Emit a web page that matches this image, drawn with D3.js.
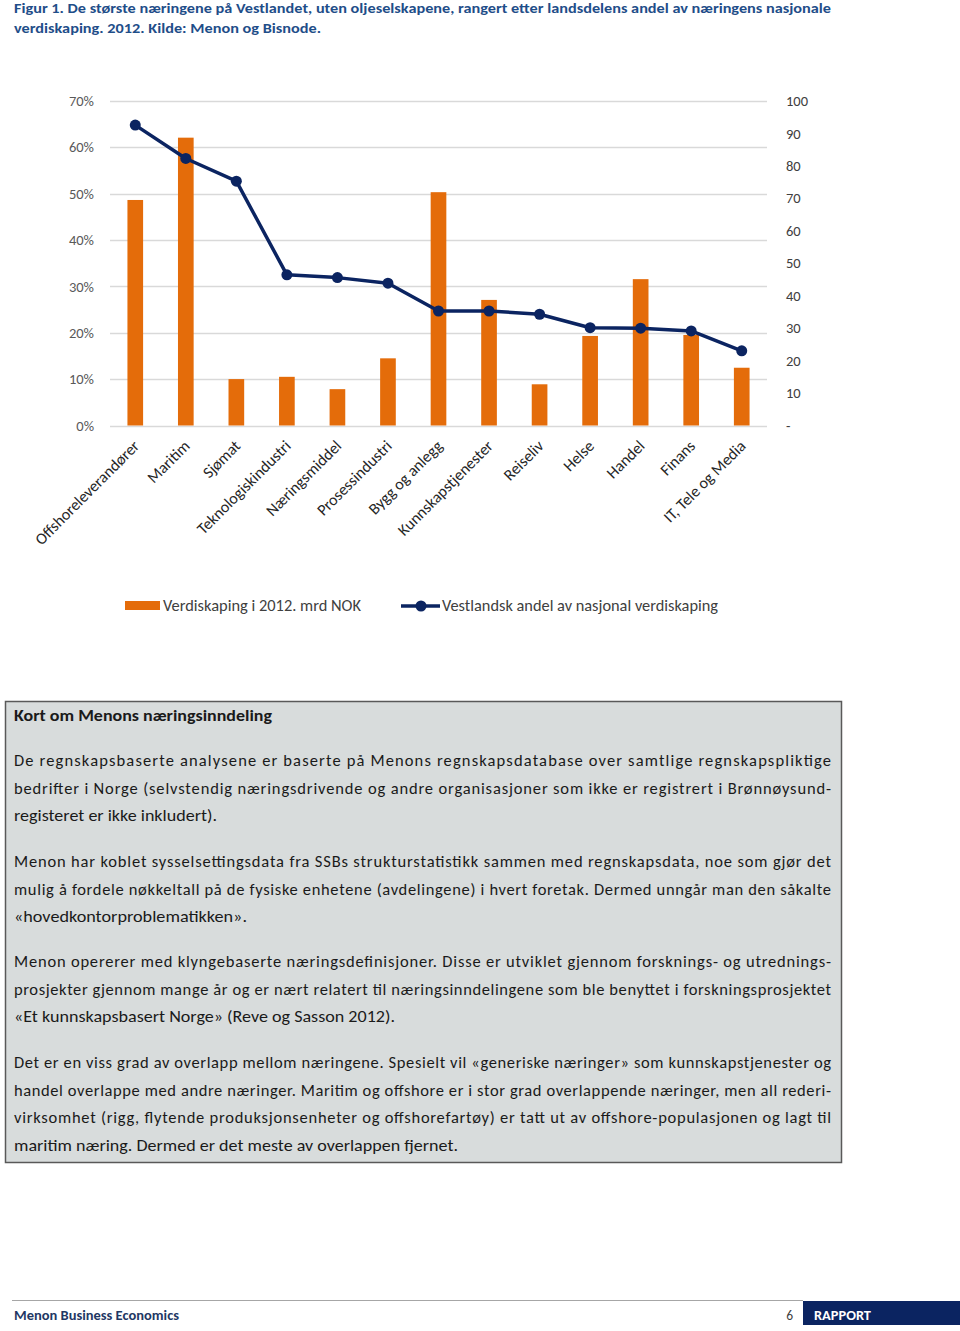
<!DOCTYPE html>
<html>
<head>
<meta charset="utf-8">
<script src="https://cdn.jsdelivr.net/npm/d3@7"></script>
<style>
  body { margin: 0; background: #ffffff; }
  svg { display: block; font-family: Calibri, Carlito, Lato, "Open Sans", sans-serif; }
</style>
</head>
<body>
<script>
// chart data
var categories = ["Offshoreleverandører", "Maritim", "Sjømat", "Teknologiskindustri",
  "Næringsmiddel", "Prosessindustri", "Bygg og anlegg", "Kunnskapstjenester",
  "Reiseliv", "Helse", "Handel", "Finans", "IT, Tele og Media"];
// bars: verdiskaping i 2012, mrd NOK (right axis)
var verdiskaping = [69.5, 88.7, 14.3, 15.0, 11.2, 20.7, 71.9, 38.7, 12.7, 27.6, 45.1, 27.9, 17.8];
// line: vestlandsk andel av nasjonal verdiskaping (left axis)
var andel = [0.648, 0.576, 0.527, 0.325, 0.319, 0.307, 0.247, 0.247, 0.240, 0.211, 0.210, 0.204, 0.161];
var leftTicks = [0, 0.1, 0.2, 0.3, 0.4, 0.5, 0.6, 0.7];
var rightTicks = [0, 10, 20, 30, 40, 50, 60, 70, 80, 90, 100];
var legendLabels = ["Verdiskaping i 2012. mrd NOK", "Vestlandsk andel av nasjonal verdiskaping"];

var titleLines = [
  "Figur 1. De største næringene på Vestlandet, uten oljeselskapene, rangert etter landsdelens andel av næringens nasjonale",
  "verdiskaping. 2012. Kilde: Menon og Bisnode."
];
var boxHeading = "Kort om Menons næringsinndeling";
var paragraphs = [
  ["De regnskapsbaserte analysene er baserte på Menons regnskapsdatabase over samtlige regnskapspliktige",
   "bedrifter i Norge (selvstendig næringsdrivende og andre organisasjoner som ikke er registrert i Brønnøysund-",
   "registeret er ikke inkludert)."],
  ["Menon har koblet sysselsettingsdata fra SSBs strukturstatistikk sammen med regnskapsdata, noe som gjør det",
   "mulig å fordele nøkkeltall på de fysiske enhetene (avdelingene) i hvert foretak. Dermed unngår man den såkalte",
   "«hovedkontorproblematikken»."],
  ["Menon opererer med klyngebaserte næringsdefinisjoner. Disse er utviklet gjennom forsknings- og utrednings-",
   "prosjekter gjennom mange år og er nært relatert til næringsinndelingene som ble benyttet i forskningsprosjektet",
   "«Et kunnskapsbasert Norge» (Reve og Sasson 2012)."],
  ["Det er en viss grad av overlapp mellom næringene. Spesielt vil «generiske næringer» som kunnskapstjenester og",
   "handel overlappe med andre næringer. Maritim og offshore er i stor grad overlappende næringer, men all rederi-",
   "virksomhet (rigg, flytende produksjonsenheter og offshorefartøy) er tatt ut av offshore-populasjonen og lagt til",
   "maritim næring. Dermed er det meste av overlappen fjernet."]
];
// widths of the last (unjustified) line of each paragraph
var lastLineWidths = [203, 233, 381, 444];

var W = 960, H = 1331;
var orange = "#e46c0a", navy = "#0b2461", grid = "#d9d9d9", tickColor = "#595959";

var svg = d3.select("body").append("svg")
  .attr("width", W)
  .attr("height", H);

// title
svg.selectAll(".title")
  .data(titleLines)
  .enter()
  .append("text")
  .attr("x", 14)
  .attr("y", function(d, i) { return 13 + i * 20; })
  .attr("textLength", function(d, i) { return i == 0 ? 817 : 307; })
  .attr("lengthAdjust", "spacingAndGlyphs")
  .style("font-size", "14.5px")
  .style("font-weight", "bold")
  .style("fill", "#1f4e89")
  .text(function(d) { return d; });

// scales
var x = d3.scaleBand()
  .domain(categories)
  .range([110, 767])
  .paddingInner(0.69)
  .paddingOuter(0.345);

var yLeft = d3.scaleLinear()
  .domain([0, 0.7])
  .range([425.5, 101]);

var yRight = d3.scaleLinear()
  .domain([0, 100])
  .range([425.5, 101]);

// gridlines
svg.append("g")
  .selectAll("line")
  .data(leftTicks)
  .enter()
  .append("line")
  .attr("x1", 110)
  .attr("x2", 767)
  .attr("y1", function(d) { return Math.round(yLeft(d)) + 0.5; })
  .attr("y2", function(d) { return Math.round(yLeft(d)) + 0.5; })
  .attr("stroke", grid)
  .attr("stroke-width", 1.5);

// left axis
var leftAxis = d3.axisLeft(yLeft)
  .tickValues(leftTicks)
  .tickFormat(d3.format(".0%"))
  .tickSize(0)
  .tickPadding(0);

svg.append("g")
  .attr("transform", "translate(94,0)")
  .call(leftAxis)
  .call(function(g) { g.select(".domain").remove(); })
  .selectAll("text")
  .style("font-family", "Calibri, Carlito, Lato, sans-serif")
  .style("font-size", "14.5px")
  .style("fill", tickColor);

// right axis
var rightAxis = d3.axisRight(yRight)
  .tickValues(rightTicks)
  .tickFormat(function(d) { return d == 0 ? "-" : d; })
  .tickSize(0)
  .tickPadding(0);

svg.append("g")
  .attr("transform", "translate(786,0)")
  .call(rightAxis)
  .call(function(g) { g.select(".domain").remove(); })
  .selectAll("text")
  .style("font-family", "Calibri, Carlito, Lato, sans-serif")
  .style("font-size", "14.5px")
  .style("fill", "#404040");

// bars
svg.selectAll(".bar")
  .data(categories)
  .enter()
  .append("rect")
  .attr("class", "bar")
  .attr("x", function(d) { return x(d); })
  .attr("width", x.bandwidth())
  .attr("y", function(d, i) { return yRight(verdiskaping[i]); })
  .attr("height", function(d, i) { return yRight(0) - yRight(verdiskaping[i]); })
  .attr("fill", orange);

// line
var line = d3.line()
  .x(function(d, i) { return x(categories[i]) + x.bandwidth() / 2; })
  .y(function(d) { return yLeft(d); });

svg.append("path")
  .datum(andel)
  .attr("d", line)
  .attr("fill", "none")
  .attr("stroke", navy)
  .attr("stroke-width", 3.5)
  .attr("stroke-linejoin", "round");

svg.selectAll(".dot")
  .data(andel)
  .enter()
  .append("circle")
  .attr("class", "dot")
  .attr("cx", function(d, i) { return x(categories[i]) + x.bandwidth() / 2; })
  .attr("cy", function(d) { return yLeft(d); })
  .attr("r", 5.5)
  .attr("fill", navy);

// category labels, rotated
svg.selectAll(".cat")
  .data(categories)
  .enter()
  .append("text")
  .attr("class", "cat")
  .attr("transform", function(d) {
    return "translate(" + (x(d) + x.bandwidth() / 2 + 5) + ",447) rotate(-45)";
  })
  .style("text-anchor", "end")
  .style("font-size", "16px")
  .style("fill", "#262626")
  .text(function(d) { return d; });

// legend
svg.append("rect")
  .attr("x", 125)
  .attr("y", 601)
  .attr("width", 35)
  .attr("height", 9)
  .attr("fill", orange);

svg.append("line")
  .attr("x1", 401)
  .attr("x2", 440)
  .attr("y1", 606)
  .attr("y2", 606)
  .attr("stroke", navy)
  .attr("stroke-width", 3.5);

svg.append("circle")
  .attr("cx", 421)
  .attr("cy", 606)
  .attr("r", 5.5)
  .attr("fill", navy);

svg.selectAll(".legtext")
  .data(legendLabels)
  .enter()
  .append("text")
  .attr("x", function(d, i) { return i == 0 ? 163 : 442; })
  .attr("y", 611)
  .attr("textLength", function(d, i) { return i == 0 ? 198 : 276; })
  .attr("lengthAdjust", "spacingAndGlyphs")
  .style("font-size", "15.5px")
  .style("fill", "#404040")
  .text(function(d) { return d; });

// info box
svg.append("rect")
  .attr("x", 5.5)
  .attr("y", 701.5)
  .attr("width", 836)
  .attr("height", 461)
  .attr("fill", "#d8dcdc")
  .attr("stroke", "#595959")
  .attr("stroke-width", 1.5);

svg.append("text")
  .attr("x", 14)
  .attr("y", 721)
  .attr("textLength", 258)
  .attr("lengthAdjust", "spacingAndGlyphs")
  .style("font-size", "16.5px")
  .style("font-weight", "bold")
  .style("fill", "#1a1a1a")
  .text(boxHeading);

// paragraphs, justified line by line
var baseY = [766, 867, 967, 1068];
paragraphs.forEach(function(lines, p) {
  svg.selectAll(".p" + p)
    .data(lines)
    .enter()
    .append("text")
    .attr("x", 14)
    .attr("y", function(d, i) { return baseY[p] + i * 27.6; })
    .attr("textLength", function(d, i) {
      return i == lines.length - 1 ? lastLineWidths[p] : 817;
    })
    .attr("lengthAdjust", function(d, i) {
      return i == lines.length - 1 ? "spacingAndGlyphs" : "spacing";
    })
    .style("font-size", "16.5px")
    .style("fill", "#1a1a1a")
    .text(function(d) { return d; });
});

// footer
svg.append("line")
  .attr("x1", 12)
  .attr("x2", 803)
  .attr("y1", 1300.5)
  .attr("y2", 1300.5)
  .attr("stroke", "#a6a6a6")
  .attr("stroke-width", 1);

svg.append("text")
  .attr("x", 14)
  .attr("y", 1320)
  .attr("textLength", 165)
  .attr("lengthAdjust", "spacingAndGlyphs")
  .style("font-size", "13.5px")
  .style("font-weight", "bold")
  .style("fill", "#1f3864")
  .text("Menon Business Economics");

svg.append("text")
  .attr("x", 793)
  .attr("y", 1320)
  .style("text-anchor", "end")
  .style("font-size", "13.5px")
  .style("fill", "#404040")
  .text("6");

svg.append("rect")
  .attr("x", 803)
  .attr("y", 1301)
  .attr("width", 157)
  .attr("height", 24)
  .attr("fill", "#0b2461");

svg.append("text")
  .attr("x", 814)
  .attr("y", 1320)
  .attr("textLength", 57)
  .attr("lengthAdjust", "spacingAndGlyphs")
  .style("font-size", "13.5px")
  .style("font-weight", "bold")
  .style("fill", "#ffffff")
  .text("RAPPORT");
</script>
</body>
</html>
